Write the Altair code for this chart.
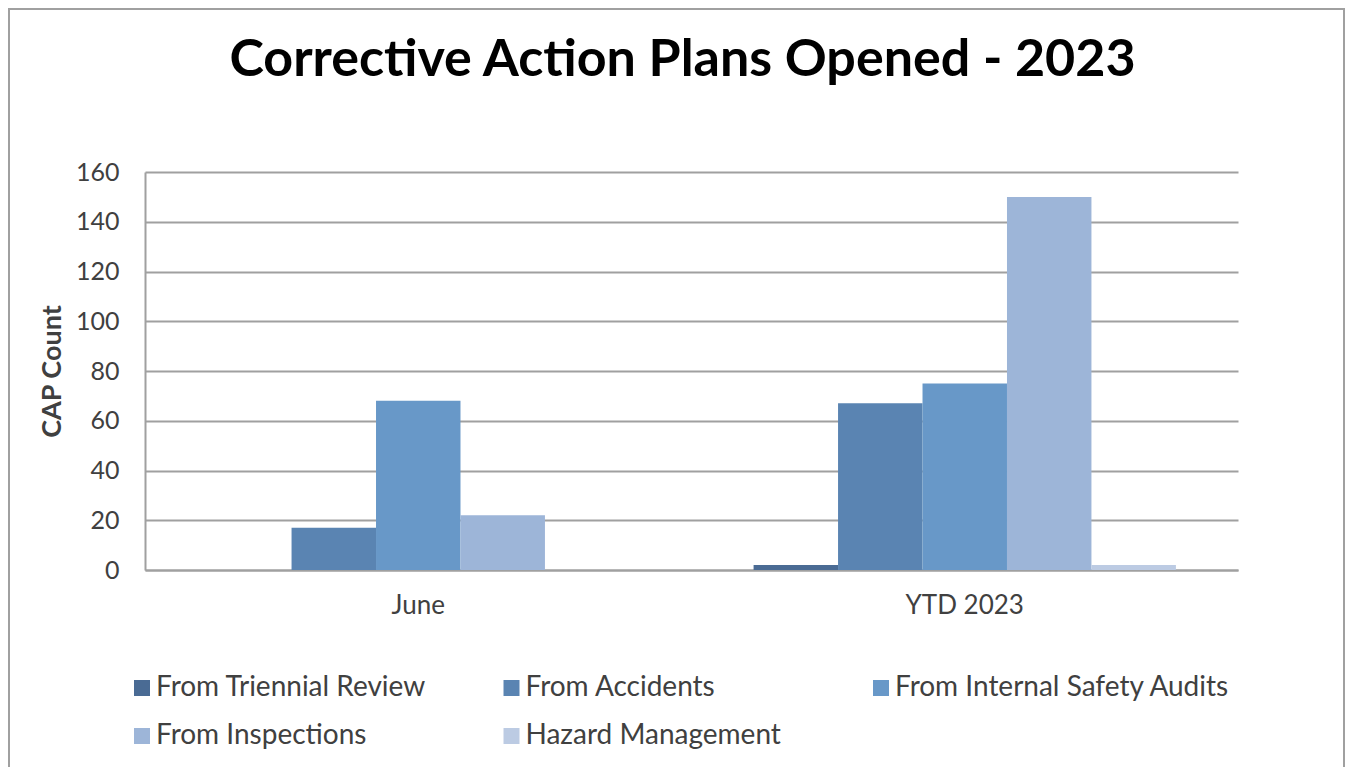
import altair as alt
import pandas as pd

categories = ["June", "YTD 2023"]
series = ["From Triennial Review", "From Accidents", "From Internal Safety Audits",
          "From Inspections", "Hazard Management"]
june_values = [0, 17, 68, 22, 0]
ytd_values = [2, 67, 75, 150, 2]
colors = ["#4a6b94", "#5a84b2", "#6898c8", "#9db5d8", "#bccbe3"]
y_ticks = [0, 20, 40, 60, 80, 100, 120, 140, 160]

rows = []
for cat, vals in zip(categories, [june_values, ytd_values]):
    for s, v in zip(series, vals):
        rows.append({"period": cat, "series": s, "count": v})
df = pd.DataFrame(rows)

FONT = "Lato"

bars = alt.Chart(df).mark_bar(strokeWidth=0).encode(
    x=alt.X("period:N", sort=categories,
            scale=alt.Scale(paddingInner=0, paddingOuter=0),
            axis=alt.Axis(title=None, labelAngle=0, labelFontSize=26, labelFont=FONT,
                          labelColor="#404040", labelPadding=22, ticks=False,
                          domainColor="#a0a0a0", domainWidth=2, grid=False)),
    xOffset=alt.XOffset("series:N", sort=series,
                        scale=alt.Scale(paddingInner=0, paddingOuter=0.735)),
    y=alt.Y("count:Q", scale=alt.Scale(domain=[0, 160]),
            axis=alt.Axis(values=y_ticks, title="CAP Count", titleFontSize=27,
                          titleFont=FONT, titleFontWeight="bold", titleColor="#404040",
                          titlePadding=9, labelFontSize=25, labelFont=FONT,
                          labelColor="#404040", labelPadding=26, ticks=False,
                          domainColor="#a0a0a0", domainWidth=2,
                          gridColor="#a0a0a0", gridWidth=2)),
    color=alt.Color("series:N", sort=series,
                    scale=alt.Scale(domain=series, range=colors),
                    legend=alt.Legend(title=None, orient="none", legendX=-17, legendY=502,
                                      direction="horizontal", columns=3, gridAlign="all",
                                      symbolType="square", symbolSize=256,
                                      symbolStrokeWidth=0, labelFontSize=28,
                                      labelFont=FONT, labelColor="#404040",
                                      labelOffset=0, rowPadding=20, columnPadding=6.5,
                                      labelLimit=500)),
)

border = alt.Chart(pd.DataFrame({"a": [0]})).mark_rect(
    fill="transparent", stroke="#a0a0a0", strokeWidth=2
).encode(x=alt.value(-136), x2=alt.value(1199), y=alt.value(-163), y2=alt.value(640))

chart = alt.layer(border, bars).properties(
    width=1093, height=398,
    autosize=alt.AutoSizeParams(type="none"),
    padding={"left": 137, "top": 164, "right": 108, "bottom": 200},
    title=alt.TitleParams("Corrective Action Plans Opened - 2023", fontSize=52,
                          font=FONT, fontWeight="bold", color="black",
                          anchor="middle", dx=-9, offset=-131, baseline="bottom"),
).configure_view(stroke=None)

chart.save("out.html", embed_options={"renderer": "svg", "actions": False})
